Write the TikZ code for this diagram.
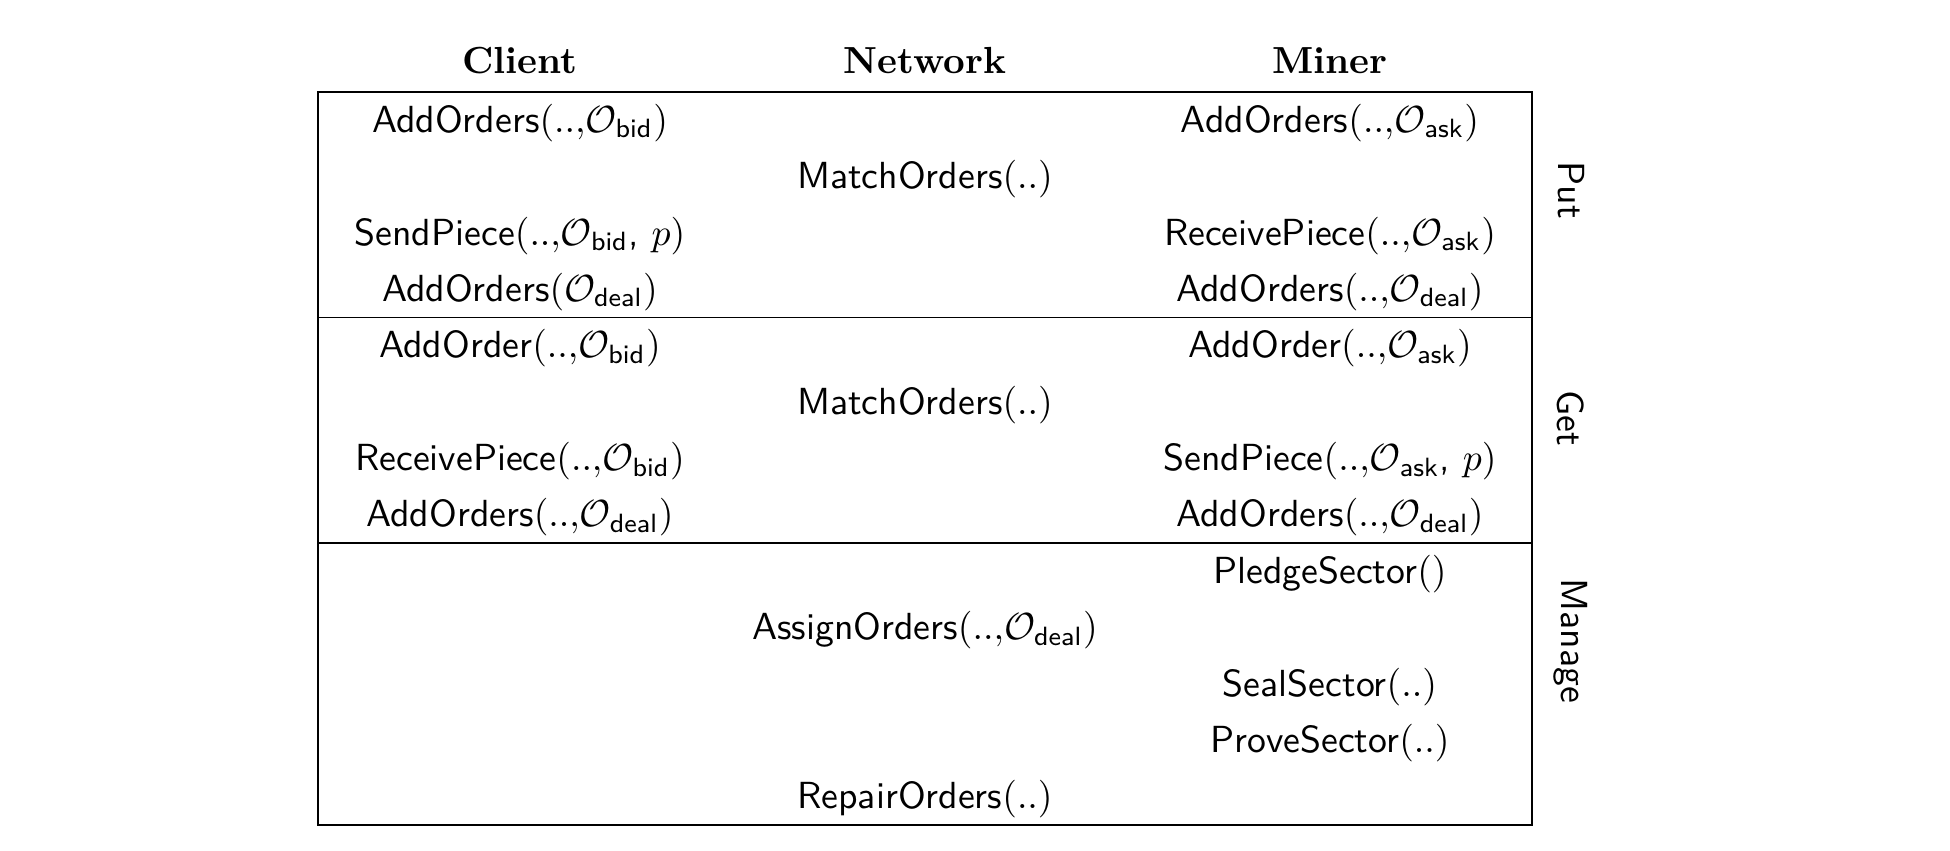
\documentclass[tikz,border=0pt]{standalone}
\usepackage{amsmath}
\usepackage{xcolor}
\usepackage{amssymb}
\usepackage{tikz}

\newcommand{\ordset}[1]{\mathcal{O}_{\textsf{#1}}}

\begin{document}
\begin{tikzpicture}[x=0.265pt,y=0.265pt,yscale=-1,xscale=1,
  entry/.style={anchor=base,inner sep=0pt,font=\sffamily},
  head/.style={anchor=base,inner sep=0pt,font=\bfseries},
  phase/.style={rotate=-90,inner sep=0pt,font=\sffamily}]

\useasboundingbox (0,0) rectangle (1950,850);

\draw   (318,92) -- (1532,92) -- (1532,825) -- (318,825) -- cycle ;

\draw    (318,317.5) -- (1532,317.5) ;

\draw    (318,543) -- (1532,543) ;

\node[head] (client) at (520,73) {Client};
\node[head] (network) at (925,73) {Network};
\node[head] (miner) at (1330,73) {Miner};

% put
\node[entry] (cput1) at (520,132.2) {AddOrders$(..{,}\ordset{bid})$};
\node[entry] (mput1) at (1330,132.2) {AddOrders$(..{,}\ordset{ask})$};
\node[entry] (nput) at (925,188.6) {MatchOrders$(..)$};
\node[entry] (cput2) at (520,245) {SendPiece$(..{,}\ordset{bid}$, $p)$};
\node[entry] (mput2) at (1330,245) {ReceivePiece$(..{,}\ordset{ask})$};
\node[entry] (cput3) at (520,301.3) {AddOrders$(\ordset{deal})$};
\node[entry] (mput3) at (1330,301.3) {AddOrders$(..{,}\ordset{deal})$};

% get
\node[entry] (cget1) at (520,357.7) {AddOrder$(..{,}\ordset{bid})$};
\node[entry] (mget1) at (1330,357.7) {AddOrder$(..{,}\ordset{ask})$};
\node[entry] (nget) at (925,414.1) {MatchOrders$(..)$};
\node[entry] (cget2) at (520,470.5) {ReceivePiece$(..{,}\ordset{bid})$};
\node[entry] (mget2) at (1330,470.5) {SendPiece$(..{,}\ordset{ask}$, $p)$};
\node[entry] (cget3) at (520,526.9) {AddOrders$(..{,}\ordset{deal})$};
\node[entry] (mget3) at (1330,526.9) {AddOrders$(..{,}\ordset{deal})$};

% manage
\node[entry] (mman1) at (1330,583.2) {PledgeSector$()$};
\node[entry] (nman1) at (925,639.6) {AssignOrders$(..{,}\ordset{deal})$};
\node[entry] (mman2) at (1330,696) {SealSector$(..)$};
\node[entry] (mman3) at (1330,752.4) {ProveSector$(..)$};
\node[entry] (nman2) at (925,808.8) {RepairOrders$(..)$};

\node[phase] (put) at (1571,190) {Put};
\node[phase] (get) at (1571,418) {Get};
\node[phase] (manage) at (1571,641) {Manage};

\end{tikzpicture}
\end{document}
